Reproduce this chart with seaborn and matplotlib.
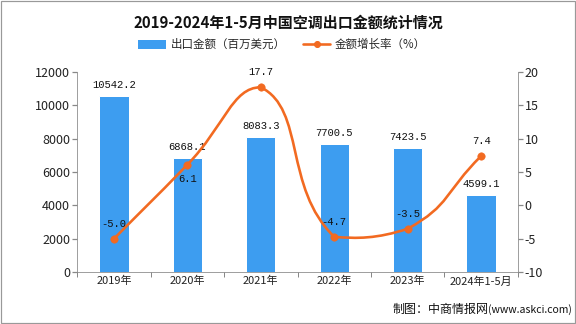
import numpy as np
import pandas as pd
import matplotlib
matplotlib.use("Agg")
import matplotlib.pyplot as plt
from matplotlib.path import Path
from matplotlib.patches import PathPatch, Rectangle, Patch
from matplotlib.lines import Line2D
import seaborn as sns

years = ["2019年", "2020年", "2021年", "2022年", "2023年", "2024年1-5月"]
export_value = [10542.2, 6868.1, 8083.3, 7700.5, 7423.5, 4599.1]
growth_rate = [-5.0, 6.1, 17.7, -4.7, -3.5, 7.4]
rate_label_offsets = [10, -19, 10, 10, 10, 10]

title = "2019-2024年1-5月中国空调出口金额统计情况"
bar_name = "出口金额（百万美元）"
line_name = "金额增长率（%）"
source_a = "制图：中商情报网"
source_b = "(www.askci.com)"

BLUE = "#3D9DF0"
ORANGE = "#F26A21"
GRAY = "#888888"

sns.set_theme(style="white")
plt.rcParams["font.family"] = ["Noto Sans CJK SC", "DejaVu Sans"]
plt.rcParams["axes.unicode_minus"] = False

df = pd.DataFrame({"year": years, "value": export_value, "rate": growth_rate})

fig = plt.figure(figsize=(8, 4.5), dpi=72)
ax = fig.add_axes([0.134, 0.160, 0.765, 0.618])

sns.barplot(data=df, x="year", y="value", color=BLUE, width=0.4, ax=ax,
            saturation=1)
ax.set_ylim(0, 12000)
ax.set_yticks(range(0, 12001, 2000))
ax.set_xlim(-0.5, len(years) - 0.5)
ax.set_xlabel("")
ax.set_ylabel("")

for i, v in enumerate(export_value):
    ax.annotate(f"{v:.1f}", (i, v), xytext=(0, 6), textcoords="offset points",
                ha="center", va="bottom", fontsize=10.5,
                family=["Liberation Mono", "DejaVu Sans"], color="#111111")

ax2 = ax.twinx()
ax2.set_ylim(-10, 20)
ax2.set_yticks(range(-10, 21, 5))
ax2.set_xlim(-0.5, len(years) - 0.5)

# smooth curve (bezier smoothing with bounds constraint), computed in pixel space
xs = np.arange(len(growth_rate), dtype=float)
ys = np.array(growth_rate, dtype=float)
pts = ax2.transData.transform(np.column_stack([xs, ys]))
smooth = 0.5
n = len(pts)
lo = pts.min(axis=0)
hi = pts.max(axis=0)
cps = []
for i in range(n):
    p = pts[i]
    prev = pts[i - 1] if i > 0 else p
    nxt = pts[i + 1] if i < n - 1 else p
    v = nxt - prev
    d0 = np.hypot(*(p - prev))
    d1 = np.hypot(*(p - nxt))
    tot = d0 + d1
    if tot != 0:
        d0 /= tot
        d1 /= tot
    cp0 = np.clip(p - v * d0 * smooth, lo, hi)
    cp1 = np.clip(p + v * d1 * smooth, lo, hi)
    cps.append((cp0, cp1))
inv = ax2.transData.inverted()
verts = [tuple(inv.transform(pts[0]))]
codes = [Path.MOVETO]
for i in range(n - 1):
    verts += [tuple(inv.transform(cps[i][1])), tuple(inv.transform(cps[i + 1][0])),
              tuple(inv.transform(pts[i + 1]))]
    codes += [Path.CURVE4] * 3
ax2.add_patch(PathPatch(Path(verts, codes), facecolor="none", edgecolor=ORANGE,
                        lw=2.6, transform=ax2.transData, zorder=3))
sns.scatterplot(x=xs, y=ys, color=ORANGE, s=55, edgecolor=ORANGE, ax=ax2,
                zorder=4, legend=False)
ax2.set_xlim(-0.5, len(years) - 0.5)

for i, (r, off) in enumerate(zip(growth_rate, rate_label_offsets)):
    ax2.annotate(f"{r:.1f}", (i, r), xytext=(0, off), textcoords="offset points",
                 ha="center", va="bottom", fontsize=10.5,
                 family=["Liberation Mono", "DejaVu Sans"], color="#111111")

for a in (ax, ax2):
    a.spines["top"].set_visible(False)
    for sp in ("left", "right", "bottom"):
        a.spines[sp].set_color(GRAY)
        a.spines[sp].set_linewidth(0.8)
ax2.spines["left"].set_visible(False)
ax2.spines["bottom"].set_visible(False)
ax.spines["right"].set_visible(False)

ax.tick_params(axis="y", direction="out", length=5, color=GRAY, labelsize=12.5,
               labelcolor="#222222", left=True, pad=2)
ax2.tick_params(axis="y", direction="out", length=5, color=GRAY, labelsize=12.5,
                labelcolor="#222222", right=True, pad=2)
ax.set_xticks(range(len(years)))
ax.set_xticklabels(years)
ax.set_xticks(np.arange(-0.5, len(years), 1.0), minor=True)
ax.tick_params(axis="x", which="major", length=0, labelsize=11,
               labelcolor="#222222", pad=4)
ax.tick_params(axis="x", which="minor", direction="out", length=5, color=GRAY,
               bottom=True)

fig.text(0.500, 0.930, title, ha="center", va="center", fontsize=15,
         fontweight="bold", color="#111111")

handles = [Patch(facecolor=BLUE, edgecolor="none"),
           Line2D([0], [0], color=ORANGE, lw=2.6, marker="o", markersize=6)]
fig.legend(handles, [bar_name, line_name], loc="center", ncol=2,
           bbox_to_anchor=(0.49, 0.862), frameon=False, fontsize=11.5,
           handlelength=2.4, handleheight=0.8, columnspacing=1.5,
           handletextpad=0.4)

tb = fig.text(0.993, 0.045, source_b, ha="right", va="center", fontsize=10.5,
              color="#111111")
ax.annotate(source_a, xy=(0, 0.5), xycoords=tb, ha="right", va="center",
            fontsize=12, color="#111111", annotation_clip=False)

fig.add_artist(Rectangle((0.001, 0.002), 0.997, 0.995, transform=fig.transFigure,
                         fill=False, edgecolor="#999999", lw=1.2))

fig.savefig("out.png", dpi=72)
